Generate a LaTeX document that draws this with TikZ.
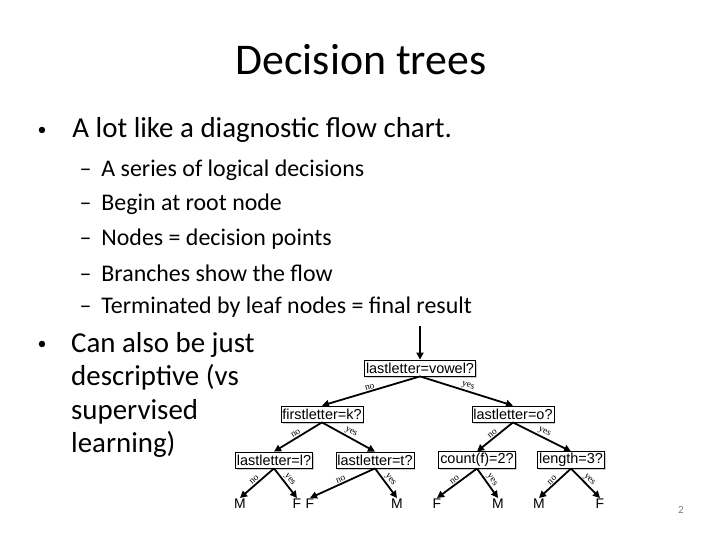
\documentclass[tikz,border=0pt]{standalone}
\usepackage{fontspec}
\setmainfont{Carlito}
\newfontfamily\hv{Liberation Sans}
\newfontfamily\tm{Liberation Serif}
\usetikzlibrary{shadows,arrows.meta}
\begin{document}
\begin{tikzpicture}[x=1bp,y=-1bp,
  q/.style={draw,thick,fill=white,font=\hv\fontsize{14.5}{15}\selectfont,inner sep=1.4pt,minimum height=16bp,drop shadow={shadow xshift=1.5bp,shadow yshift=-1.5bp,opacity=0.4}},
  leaf/.style={font=\hv\fontsize{14}{15}\selectfont,inner sep=1pt},
  e/.style={-{Triangle[length=7bp,width=7bp]},line width=1.8bp},
  lab/.style={font=\tm\fontsize{9.5}{10}\selectfont,inner sep=1pt,sloped},
  bl/.style={anchor=west,font=\fontsize{29}{34}\selectfont},
  sb/.style={anchor=west,font=\fontsize{24}{28}\selectfont}]
\useasboundingbox[fill=white] (0,0) rectangle (720,540);
\node[font=\fontsize{44}{48}\selectfont] (title) at (361,60) {Decision trees};
\node[bl] (b1) at (34,130) {\raisebox{2bp}{\fontsize{18}{18}\selectfont•}\hspace{26bp}A lot like a diagnostic flow chart.};
\foreach \t [count=\i] in {A series of logical decisions,Begin at root node,Nodes = decision points,Branches show the flow,Terminated by leaf nodes = final result}
  \node[sb] (s\i) at (76,135.5+34.4*\i) {–\hspace{10bp}\t};
\node[bl] (b2) at (34,346) {\raisebox{2bp}{\fontsize{18}{18}\selectfont•}};
\node[anchor=north west,align=left,font=\fontsize{29}{33.5}\selectfont,inner sep=0] (b2t) at (71,332) {Can also be just\\descriptive (vs\\supervised\\learning)};
\node[q] (r) at (420,368) {lastletter=vowel?};
\coordinate (top) at (420,326);
\node[q] (a) at (322,414) {firstletter=k?};
\node[q] (b) at (513,414) {lastletter=o?};
\node[q] (c) at (274,460) {lastletter=l?};
\node[q] (d) at (375,460) {lastletter=t?};
\node[q] (f) at (477,460) {count(f)=2?};
\node[q] (g) at (571,460) {length=3?};
\foreach \n/\x/\t in {l1/240/M,l2/297/F,l3/310/F,l4/397/M,l5/437/F,l6/498/M,l7/539/M,l8/600/F}
  \node[leaf] (\n) at (\x,504) {\t};
\draw[e] (top) -- (r.north);
\draw[e] (r.south) -- node[lab,above]{no} (a.north);
\draw[e] (r.south) -- node[lab,above]{yes} (b.north);
\draw[e] (a.south) -- node[lab,above]{no} (c.north);
\draw[e] (a.south) -- node[lab,above]{yes} (d.north);
\draw[e] (b.south) -- node[lab,above]{no} (f.north);
\draw[e] (b.south) -- node[lab,above]{yes} (g.north);
\foreach \p/\u/\v in {c/l1/l2,d/l3/l4,f/l5/l6,g/l7/l8}{
  \draw[e] (\p.south) -- node[lab,above]{no} (\u.north);
  \draw[e] (\p.south) -- node[lab,above]{yes} (\v.north);}
\node[font=\fontsize{11}{12}\selectfont,text=gray] (pg) at (681,510) {2};
\end{tikzpicture}
\end{document}
